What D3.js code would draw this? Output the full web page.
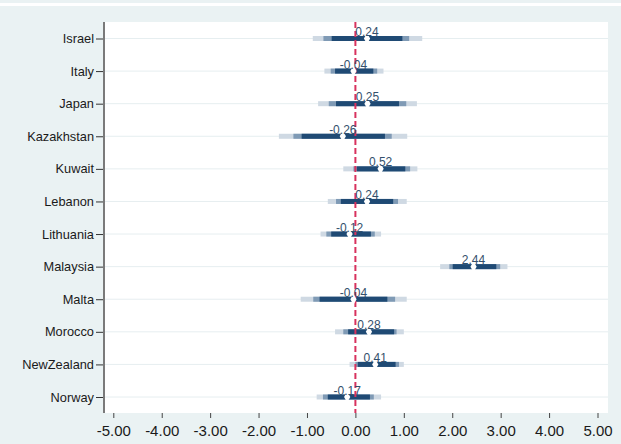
<!DOCTYPE html>
<html>
<head>
<meta charset="utf-8">
<script src="https://cdn.jsdelivr.net/npm/d3@7"></script>
<style>
  body { margin: 0; background: #eaf2f3; }
  text { font-family: "Liberation Sans", Arial, sans-serif; }
</style>
</head>
<body>
<div id="main"></div>
<script>
// countries, point estimates and three interval levels (outer -> inner)
const countries = ["Israel", "Italy", "Japan", "Kazakhstan", "Kuwait", "Lebanon",
  "Lithuania", "Malaysia", "Malta", "Morocco", "NewZealand", "Norway"];
const estimates = [0.24, -0.04, 0.25, -0.26, 0.52, 0.24, -0.12, 2.44, -0.04, 0.28, 0.41, -0.17];
const ciOuterLo = [-0.88, -0.64, -0.77, -1.58, -0.25, -0.57, -0.72, 1.75, -1.13, -0.42, -0.12, -0.80];
const ciOuterHi = [1.38, 0.58, 1.27, 1.07, 1.28, 1.06, 0.53, 3.14, 1.06, 1.00, 1.00, 0.53];
const ciMidLo = [-0.66, -0.51, -0.55, -1.28, -0.04, -0.40, -0.60, 1.94, -0.87, -0.25, 0.00, -0.67];
const ciMidHi = [1.11, 0.45, 1.05, 0.75, 1.13, 0.88, 0.40, 2.99, 0.82, 0.85, 0.90, 0.38];
const ciInLo = [-0.49, -0.42, -0.40, -1.11, 0.03, -0.30, -0.50, 2.01, -0.74, -0.15, 0.05, -0.57];
const ciInHi = [0.97, 0.37, 0.90, 0.61, 1.03, 0.78, 0.32, 2.91, 0.66, 0.80, 0.83, 0.30];
const xTicks = [-5, -4, -3, -2, -1, 0, 1, 2, 3, 4, 5];

const W = 621, H = 444;
const plot = {left: 104, right: 608, top: 22, bottom: 413};
const fmt = v => d3.format(".2f")(v).replace("\u2212", "-");

const svg = d3.select("#main").append("svg")
  .attr("width", W).attr("height", H);

// background bands
svg.append("rect").attr("width", W).attr("height", H).attr("fill", "#eaf2f3");
svg.append("rect").attr("x", 0).attr("y", 3).attr("width", W).attr("height", 3).attr("fill", "#ffffff");
svg.append("rect")
  .attr("x", plot.left).attr("y", plot.top)
  .attr("width", plot.right - plot.left).attr("height", plot.bottom - plot.top)
  .attr("fill", "#ffffff");

const x = d3.scaleLinear().domain([-5, 5]).range([113.3, 597.5]);
const y = d3.scalePoint().domain(countries).range([38.5, 397]);

const rows = countries.map((c, i) => ({
  name: c, est: estimates[i],
  levels: [
    {lo: ciOuterLo[i], hi: ciOuterHi[i], color: "#cfd9e3"},
    {lo: ciMidLo[i], hi: ciMidHi[i], color: "#7f9ab5"},
    {lo: ciInLo[i], hi: ciInHi[i], color: "#1f4a74"}
  ]
}));

// gridlines
svg.append("g").selectAll("line")
  .data(countries)
  .join("line")
  .attr("x1", plot.left).attr("x2", plot.right)
  .attr("y1", d => y(d)).attr("y2", d => y(d))
  .attr("stroke", "#e6eef0").attr("stroke-width", 1);

// left axis
const yAxis = svg.append("g")
  .attr("transform", `translate(${plot.left},0)`)
  .call(d3.axisLeft(y).tickSize(8).tickPadding(2));
yAxis.select(".domain").remove();
yAxis.selectAll(".tick line").attr("stroke", "#333");
yAxis.selectAll(".tick text")
  .attr("fill", "#1a1a1a").style("font-size", "12.8px");
svg.append("line")
  .attr("x1", plot.left).attr("x2", plot.left)
  .attr("y1", plot.top).attr("y2", plot.bottom)
  .attr("stroke", "#7a7a7a").attr("stroke-width", 2);

// bottom axis (ticks only)
const xAxis = svg.append("g")
  .attr("transform", `translate(0,${plot.bottom})`)
  .call(d3.axisBottom(x).tickValues(xTicks).tickFormat(fmt)
    .tickSize(5).tickPadding(7));
xAxis.select(".domain").remove();
xAxis.selectAll(".tick line").attr("stroke", "#444");
xAxis.selectAll(".tick text")
  .attr("fill", "#1a1a1a").style("font-size", "15px");

// interval bars
const g = svg.append("g");
rows.forEach(r => {
  g.selectAll(null)
    .data(r.levels)
    .join("rect")
    .attr("x", d => x(d.lo))
    .attr("width", d => x(d.hi) - x(d.lo))
    .attr("y", y(r.name) - 2.5)
    .attr("height", 5)
    .attr("fill", d => d.color);
});

// zero reference line
svg.append("line")
  .attr("x1", x(0)).attr("x2", x(0))
  .attr("y1", plot.top).attr("y2", plot.bottom)
  .attr("stroke", "#d8325e").attr("stroke-width", 2)
  .attr("stroke-dasharray", "6,3");

// point estimate markers
svg.append("g").selectAll("path")
  .data(rows)
  .join("path")
  .attr("d", d3.symbol().type(d3.symbolDiamond).size(34))
  .attr("transform", d => `translate(${x(d.est)},${y(d.name)})`)
  .attr("fill", "#ffffff");

// value labels
svg.append("g").selectAll("text")
  .data(rows)
  .join("text")
  .attr("x", d => x(d.est))
  .attr("y", d => y(d.name) - 2.5)
  .attr("text-anchor", "middle")
  .attr("fill", "#34506c")
  .style("font-size", "12px")
  .text(d => fmt(d.est));
</script>
</body>
</html>
